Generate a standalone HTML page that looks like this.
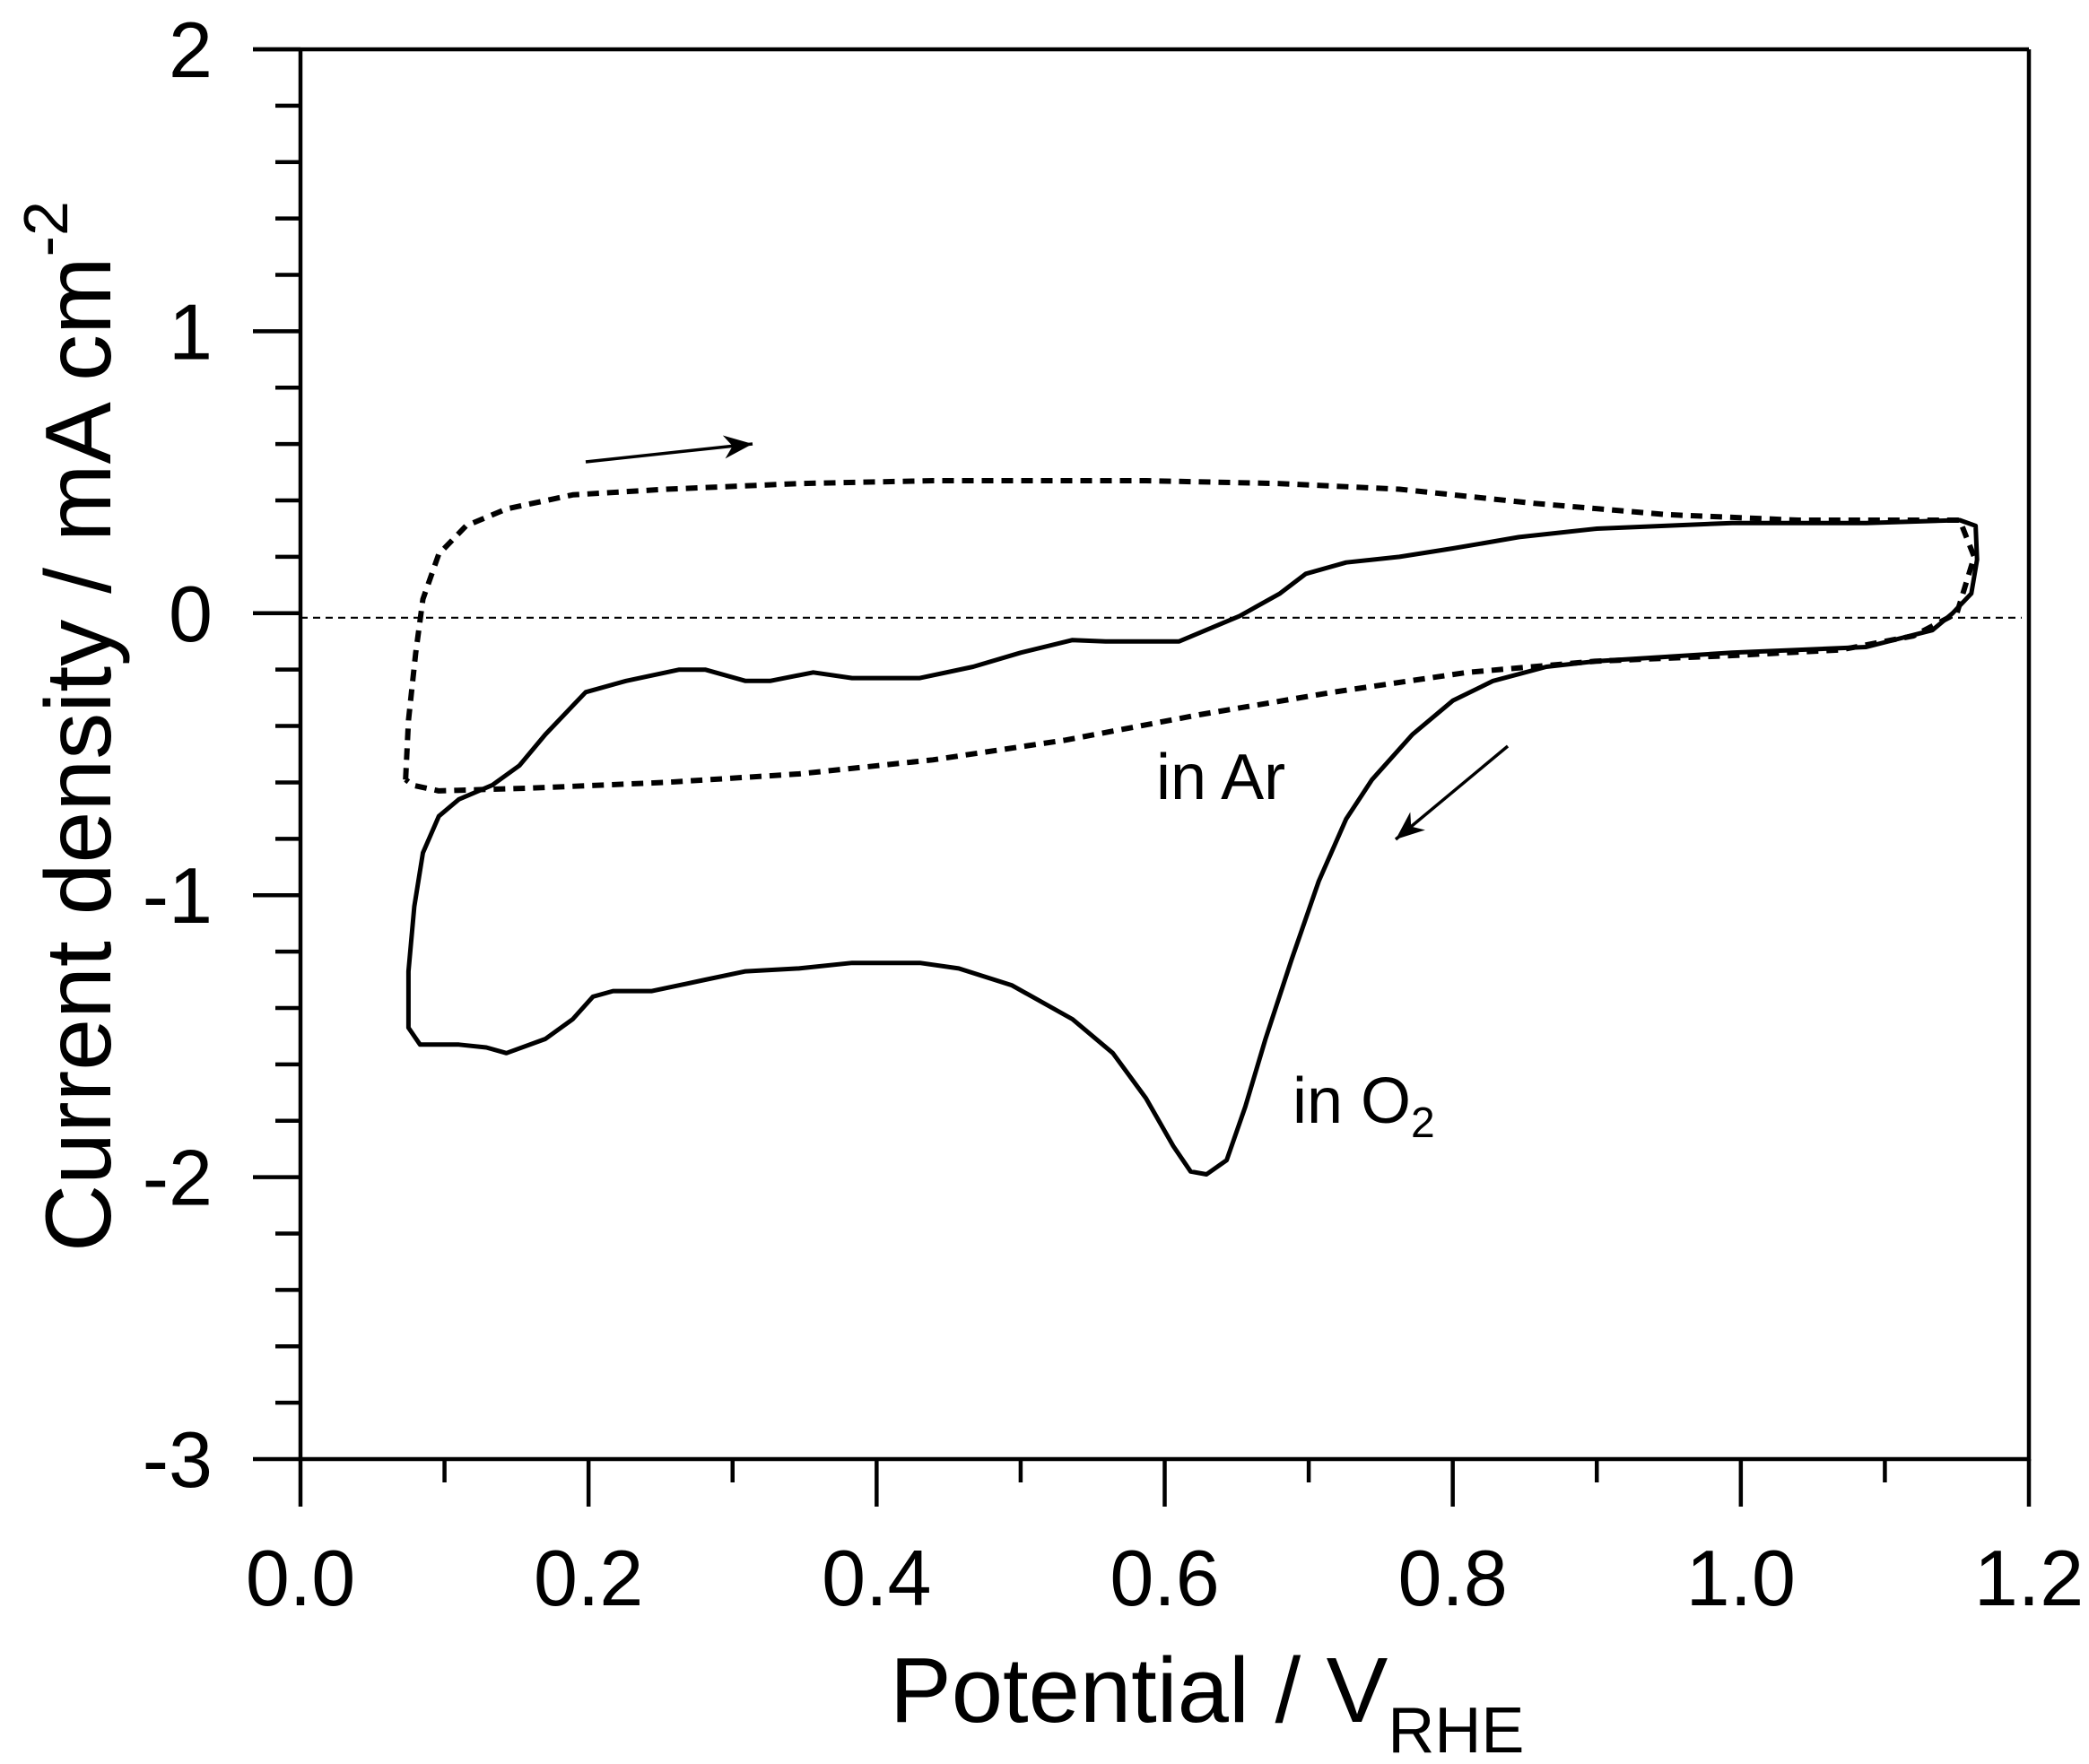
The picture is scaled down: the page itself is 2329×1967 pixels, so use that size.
<!DOCTYPE html>
<html><head><meta charset="utf-8"><style>
html,body{margin:0;padding:0;background:#fff;}
svg{display:block;font-family:"Liberation Sans",Arial,sans-serif;}
</style></head><body>
<svg id="chart" width="2329" height="1967" viewBox="0 0 2329 1967" xmlns="http://www.w3.org/2000/svg">
<rect x="0" y="0" width="2329" height="1967" fill="#fff"/>
<g id="plot"></g>
<text x="992" y="1920" font-size="103">Potential / V<tspan font-size="72" dy="34">RHE</tspan></text>
<text transform="translate(123,1396) rotate(-90)" font-size="104">Current density / mA cm<tspan font-size="70" dy="-48">-2</tspan></text>
<text x="1289" y="891" font-size="72">in Ar</text>
<text x="1441" y="1252" font-size="72">in O<tspan font-size="48" dy="16">2</tspan></text>
</svg>
<script>
const xTicks = [0.0, 0.2, 0.4, 0.6, 0.8, 1.0, 1.2];
const xTickLabels = ["0.0", "0.2", "0.4", "0.6", "0.8", "1.0", "1.2"];
const yTicks = [2, 1, 0, -1, -2, -3];
const yTickLabels = ["2", "1", "0", "-1", "-2", "-3"];
const o2Potential = [0.075,0.075,0.079,0.085,0.096,0.110,0.133,0.152,0.170,0.198,0.226,0.263,0.281,0.309,0.326,0.356,0.383,0.430,0.467,0.500,0.536,0.559,0.610,0.652,0.680,0.698,0.726,0.763,0.800,0.846,0.900,0.994,1.087,1.152,1.163,1.164,1.160,1.147,1.133,1.087,0.994,0.900,0.865,0.828,0.800,0.772,0.744,0.726,0.707,0.688,0.670,0.656,0.643,0.629,0.618,0.606,0.587,0.564,0.536,0.494,0.457,0.430,0.383,0.346,0.309,0.281,0.244,0.217,0.203,0.189,0.170,0.143,0.129,0.110,0.083,0.075];
const o2Current = [-1.47,-1.27,-1.04,-0.85,-0.72,-0.66,-0.61,-0.54,-0.43,-0.28,-0.24,-0.20,-0.20,-0.24,-0.24,-0.21,-0.23,-0.23,-0.19,-0.14,-0.095,-0.10,-0.10,-0.01,0.07,0.14,0.18,0.20,0.23,0.27,0.30,0.32,0.32,0.33,0.31,0.19,0.07,0.0,-0.06,-0.12,-0.14,-0.17,-0.19,-0.24,-0.31,-0.43,-0.59,-0.73,-0.95,-1.23,-1.51,-1.75,-1.94,-1.99,-1.98,-1.89,-1.72,-1.56,-1.44,-1.32,-1.26,-1.24,-1.24,-1.26,-1.27,-1.30,-1.34,-1.34,-1.36,-1.44,-1.51,-1.56,-1.54,-1.53,-1.53,-1.47];
const arPotential = [0.073,0.075,0.080,0.085,0.096,0.115,0.143,0.189,0.254,0.346,0.439,0.587,0.680,0.763,0.856,0.948,1.040,1.152,1.162,1.150,1.120,1.069,0.994,0.900,0.810,0.717,0.624,0.531,0.439,0.346,0.254,0.161,0.096,0.078,0.073];
const arCurrent = [-0.59,-0.38,-0.14,0.05,0.21,0.31,0.37,0.42,0.44,0.46,0.47,0.47,0.46,0.44,0.39,0.35,0.33,0.33,0.2,0.0,-0.08,-0.13,-0.15,-0.17,-0.21,-0.28,-0.36,-0.45,-0.52,-0.57,-0.60,-0.62,-0.63,-0.61,-0.59];
const zeroLevel = [-0.016];

const X0=335, X1=2262, Y0=55, Y1=1627, VMIN=0, VMAX=1.2, JMIN=-3, JMAX=2;
function xs(v){return X0+(v-VMIN)/(VMAX-VMIN)*(X1-X0);}
function ys(j){return Y0+(JMAX-j)/(JMAX-JMIN)*(Y1-Y0);}
const NS="http://www.w3.org/2000/svg";
const g=document.getElementById('plot');
function mk(tag,attrs){const e=document.createElementNS(NS,tag);for(const k in attrs)e.setAttribute(k,attrs[k]);g.appendChild(e);return e;}

let zl=mk('line',{x1:X0,x2:X1-8,y1:ys(zeroLevel[0]),y2:ys(zeroLevel[0]),stroke:'#000','stroke-width':2.2,'stroke-dasharray':'8 6'});



let dA=arPotential.map((v,i)=>(i?'L':'M')+xs(v).toFixed(1)+','+ys(arCurrent[i]).toFixed(1)).join(' ');
let ar=mk('path',{d:dA,fill:'none',stroke:'#000','stroke-width':6,'stroke-dasharray':'13 9','stroke-linejoin':'round'});



let dO=o2Potential.map((v,i)=>(i?'L':'M')+xs(v).toFixed(1)+','+ys(o2Current[i]).toFixed(1)).join(' ')+' Z';
let o2=mk('path',{d:dO,fill:'none',stroke:'#000','stroke-width':5,'stroke-linejoin':'round'});



let ax=mk('path',{d:`M${X0},${Y0} L${X0},${Y1} L${X1},${Y1} L${X1},${Y0}`,fill:'none',stroke:'#000','stroke-width':4.5});


let tl=mk('line',{x1:282,x2:X1,y1:Y0,y2:Y0,stroke:'#000','stroke-width':4.5});



for(let j=JMIN;j<=JMAX+1e-9;j+=0.2){
  const major=Math.abs(j-Math.round(j))<1e-6;
  const t=mk('line',{x1:major?282:307,x2:X0,y1:ys(j),y2:ys(j),stroke:'#000','stroke-width':4.5});
  
  
}
yTicks.forEach((j,i)=>{
  const t=mk('text',{x:237,y:ys(j)+31,'font-size':88,'text-anchor':'end'});
  t.textContent=yTickLabels[i];
  
  
});
for(let k=0;k<=12;k++){
  const v=k*0.1; const major=k%2===0;
  const t=mk('line',{x1:xs(v),x2:xs(v),y1:Y1,y2:major?1680:1653,stroke:'#000','stroke-width':4.5});
  
  
}
xTicks.forEach((v,i)=>{
  const t=mk('text',{x:xs(v),y:1790,'font-size':88,'text-anchor':'middle'});
  t.textContent=xTickLabels[i];
  
  
});

function arrow(x1,y1,x2,y2,name){
  const a=mk('line',{x1:x1,y1:y1,x2:x2,y2:y2,stroke:'#000','stroke-width':3.5});
  
  
  const ang=Math.atan2(y2-y1,x2-x1),L=32,W=13;
  const bx=x2-L*Math.cos(ang),by=y2-L*Math.sin(ang);
  const px=-Math.sin(ang),py=Math.cos(ang);
  const h=mk('path',{d:`M${x2},${y2} L${bx+W*px},${by+W*py} L${x2-L*0.7*Math.cos(ang)},${y2-L*0.7*Math.sin(ang)} L${bx-W*px},${by-W*py} Z`,fill:'#000'});
  
  
}
arrow(653,515,839,495,'anodic-scan-arrow');
arrow(1681,832,1556,936,'cathodic-scan-arrow');
</script>
</body></html>
